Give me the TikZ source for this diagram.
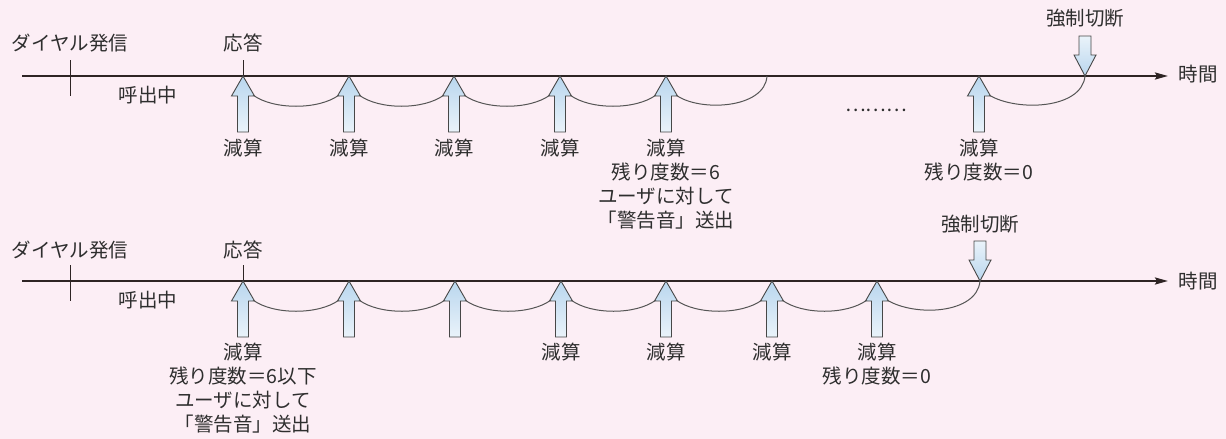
\documentclass[tikz,border=0pt]{standalone}
\usepackage{fontspec}
\newfontfamily\jp{Noto Sans CJK JP}
\usetikzlibrary{arrows.meta}
\definecolor{bg}{HTML}{FCEEF5}
\definecolor{ink}{HTML}{2E2E2E}
\definecolor{axis}{HTML}{2E2424}
\definecolor{arcc}{HTML}{555555}
\definecolor{arrline}{HTML}{474747}
\definecolor{blueA}{HTML}{B9D6EE}
\definecolor{blueB}{HTML}{EAF3FA}
\tikzset{
  txt/.style={font=\jp\fontsize{19.5}{24}\selectfont, text=ink, inner sep=0pt, align=center},
  lbl/.style={txt, anchor=north},
  axisline/.style={draw=axis, line width=2pt, -{Stealth[length=13pt,width=7pt,inset=2pt]}},
  tickline/.style={draw=axis, line width=1pt},
  arcline/.style={draw=arcc, line width=1pt},
  blockarrow/.style={draw=arrline, line width=0.9pt, line join=miter},
  uparrow/.pic={
    \path[blockarrow, top color=blueA, bottom color=blueB]
      (0,0) -- (11.5,20) -- (5.5,20) -- (5.5,56) -- (-5.5,56) -- (-5.5,20) -- (-11.5,20) -- cycle;
    \coordinate (-t) at (0,0);
    \coordinate (-l) at (-10,19);
    \coordinate (-r) at (10,19);
  },
  downarrow/.pic={
    \path[blockarrow, top color=blueB, bottom color=blueA]
      (0,0) -- (11,-21) -- (6,-21) -- (6,-40) -- (-6,-40) -- (-6,-21) -- (-11,-21) -- cycle;
    \coordinate (-t) at (0,0);
  }
}
\begin{document}
\begin{tikzpicture}[x=1pt,y=-1pt]
\useasboundingbox (0,0) rectangle (1226,439);
\fill[bg] (0,0) rectangle (1226,439);

% ---------------- top timeline (L = 76) ----------------
\coordinate (s1) at (22,76);
\coordinate (t1) at (1168,76);
\draw[axisline] (s1) -- (t1);
\coordinate (d1a) at (70,60);
\coordinate (d1b) at (70,96);
\draw[tickline] (d1a) -- (d1b);
\coordinate (r1a) at (243,60);
\coordinate (r1b) at (243,76);
\draw[tickline] (r1a) -- (r1b);

\pic (a1) at (243,76) {uparrow};
\pic (a2) at (349,76) {uparrow};
\pic (a3) at (454,76) {uparrow};
\pic (a4) at (560,76) {uparrow};
\pic (a5) at (666,76) {uparrow};
\pic (a6) at (979,76) {uparrow};
\pic (c1) at (1085,76) {downarrow};
\coordinate (e1) at (767,76);

\draw[arcline] (a1-r) .. controls +(20,15) and +(-20,15) .. (a2-l);
\draw[arcline] (a2-r) .. controls +(20,15) and +(-20,15) .. (a3-l);
\draw[arcline] (a3-r) .. controls +(20,15) and +(-20,15) .. (a4-l);
\draw[arcline] (a4-r) .. controls +(20,15) and +(-20,15) .. (a5-l);
\draw[arcline] (a5-r) .. controls +(23,17) and +(-2,33) .. (e1);
\draw[arcline] (a6-r) .. controls +(28,17) and +(-3,33) .. (c1-t);

\node[txt] (dial1) at (70,43) {ダイヤル発信};
\node[txt] (ans1) at (243,43) {応答};
\node[txt] (call1) at (148,95) {呼出中};
\node[txt] (cut1) at (1085,18) {強制切断};
\node[txt] (time1) at (1198,74) {時間};
\node[txt] (dots1) at (876,110) {………};

\node[lbl] (l1) at (243,139) {減算};
\node[lbl] (l2) at (349,139) {減算};
\node[lbl] (l3) at (454,139) {減算};
\node[lbl] (l4) at (560,139) {減算};
\node[lbl] (l5) at (666,139) {減算\\残り度数＝6\\ユーザに対して\\「警告音」送出};
\node[lbl] (l6) at (979,139) {減算\\残り度数＝0};

% ---------------- bottom timeline (L = 281) ----------------
\coordinate (s2) at (22,281);
\coordinate (t2) at (1168,281);
\draw[axisline] (s2) -- (t2);
\coordinate (d2a) at (70,265);
\coordinate (d2b) at (70,301);
\draw[tickline] (d2a) -- (d2b);
\coordinate (r2a) at (243,265);
\coordinate (r2b) at (243,281);
\draw[tickline] (r2a) -- (r2b);

\pic (b1) at (243,281) {uparrow};
\pic (b2) at (349,281) {uparrow};
\pic (b3) at (455,281) {uparrow};
\pic (b4) at (561,281) {uparrow};
\pic (b5) at (666,281) {uparrow};
\pic (b6) at (772,281) {uparrow};
\pic (b7) at (877,281) {uparrow};
\pic (c2) at (980,281) {downarrow};

\draw[arcline] (b1-r) .. controls +(20,15) and +(-20,15) .. (b2-l);
\draw[arcline] (b2-r) .. controls +(20,15) and +(-20,15) .. (b3-l);
\draw[arcline] (b3-r) .. controls +(20,15) and +(-20,15) .. (b4-l);
\draw[arcline] (b4-r) .. controls +(20,15) and +(-20,15) .. (b5-l);
\draw[arcline] (b5-r) .. controls +(20,15) and +(-20,15) .. (b6-l);
\draw[arcline] (b6-r) .. controls +(20,15) and +(-20,15) .. (b7-l);
\draw[arcline] (b7-r) .. controls +(28,17) and +(-3,33) .. (c2-t);

\node[txt] (dial2) at (70,250) {ダイヤル発信};
\node[txt] (ans2) at (243,250) {応答};
\node[txt] (call2) at (148,300) {呼出中};
\node[txt] (cut2) at (980,224) {強制切断};
\node[txt] (time2) at (1198,281) {時間};

\node[lbl] (m1) at (243,343) {減算\\残り度数＝6以下\\ユーザに対して\\「警告音」送出};
\node[lbl] (m4) at (561,343) {減算};
\node[lbl] (m5) at (666,343) {減算};
\node[lbl] (m6) at (772,343) {減算};
\node[lbl] (m7) at (877,343) {減算\\残り度数＝0};
\end{tikzpicture}
\end{document}
